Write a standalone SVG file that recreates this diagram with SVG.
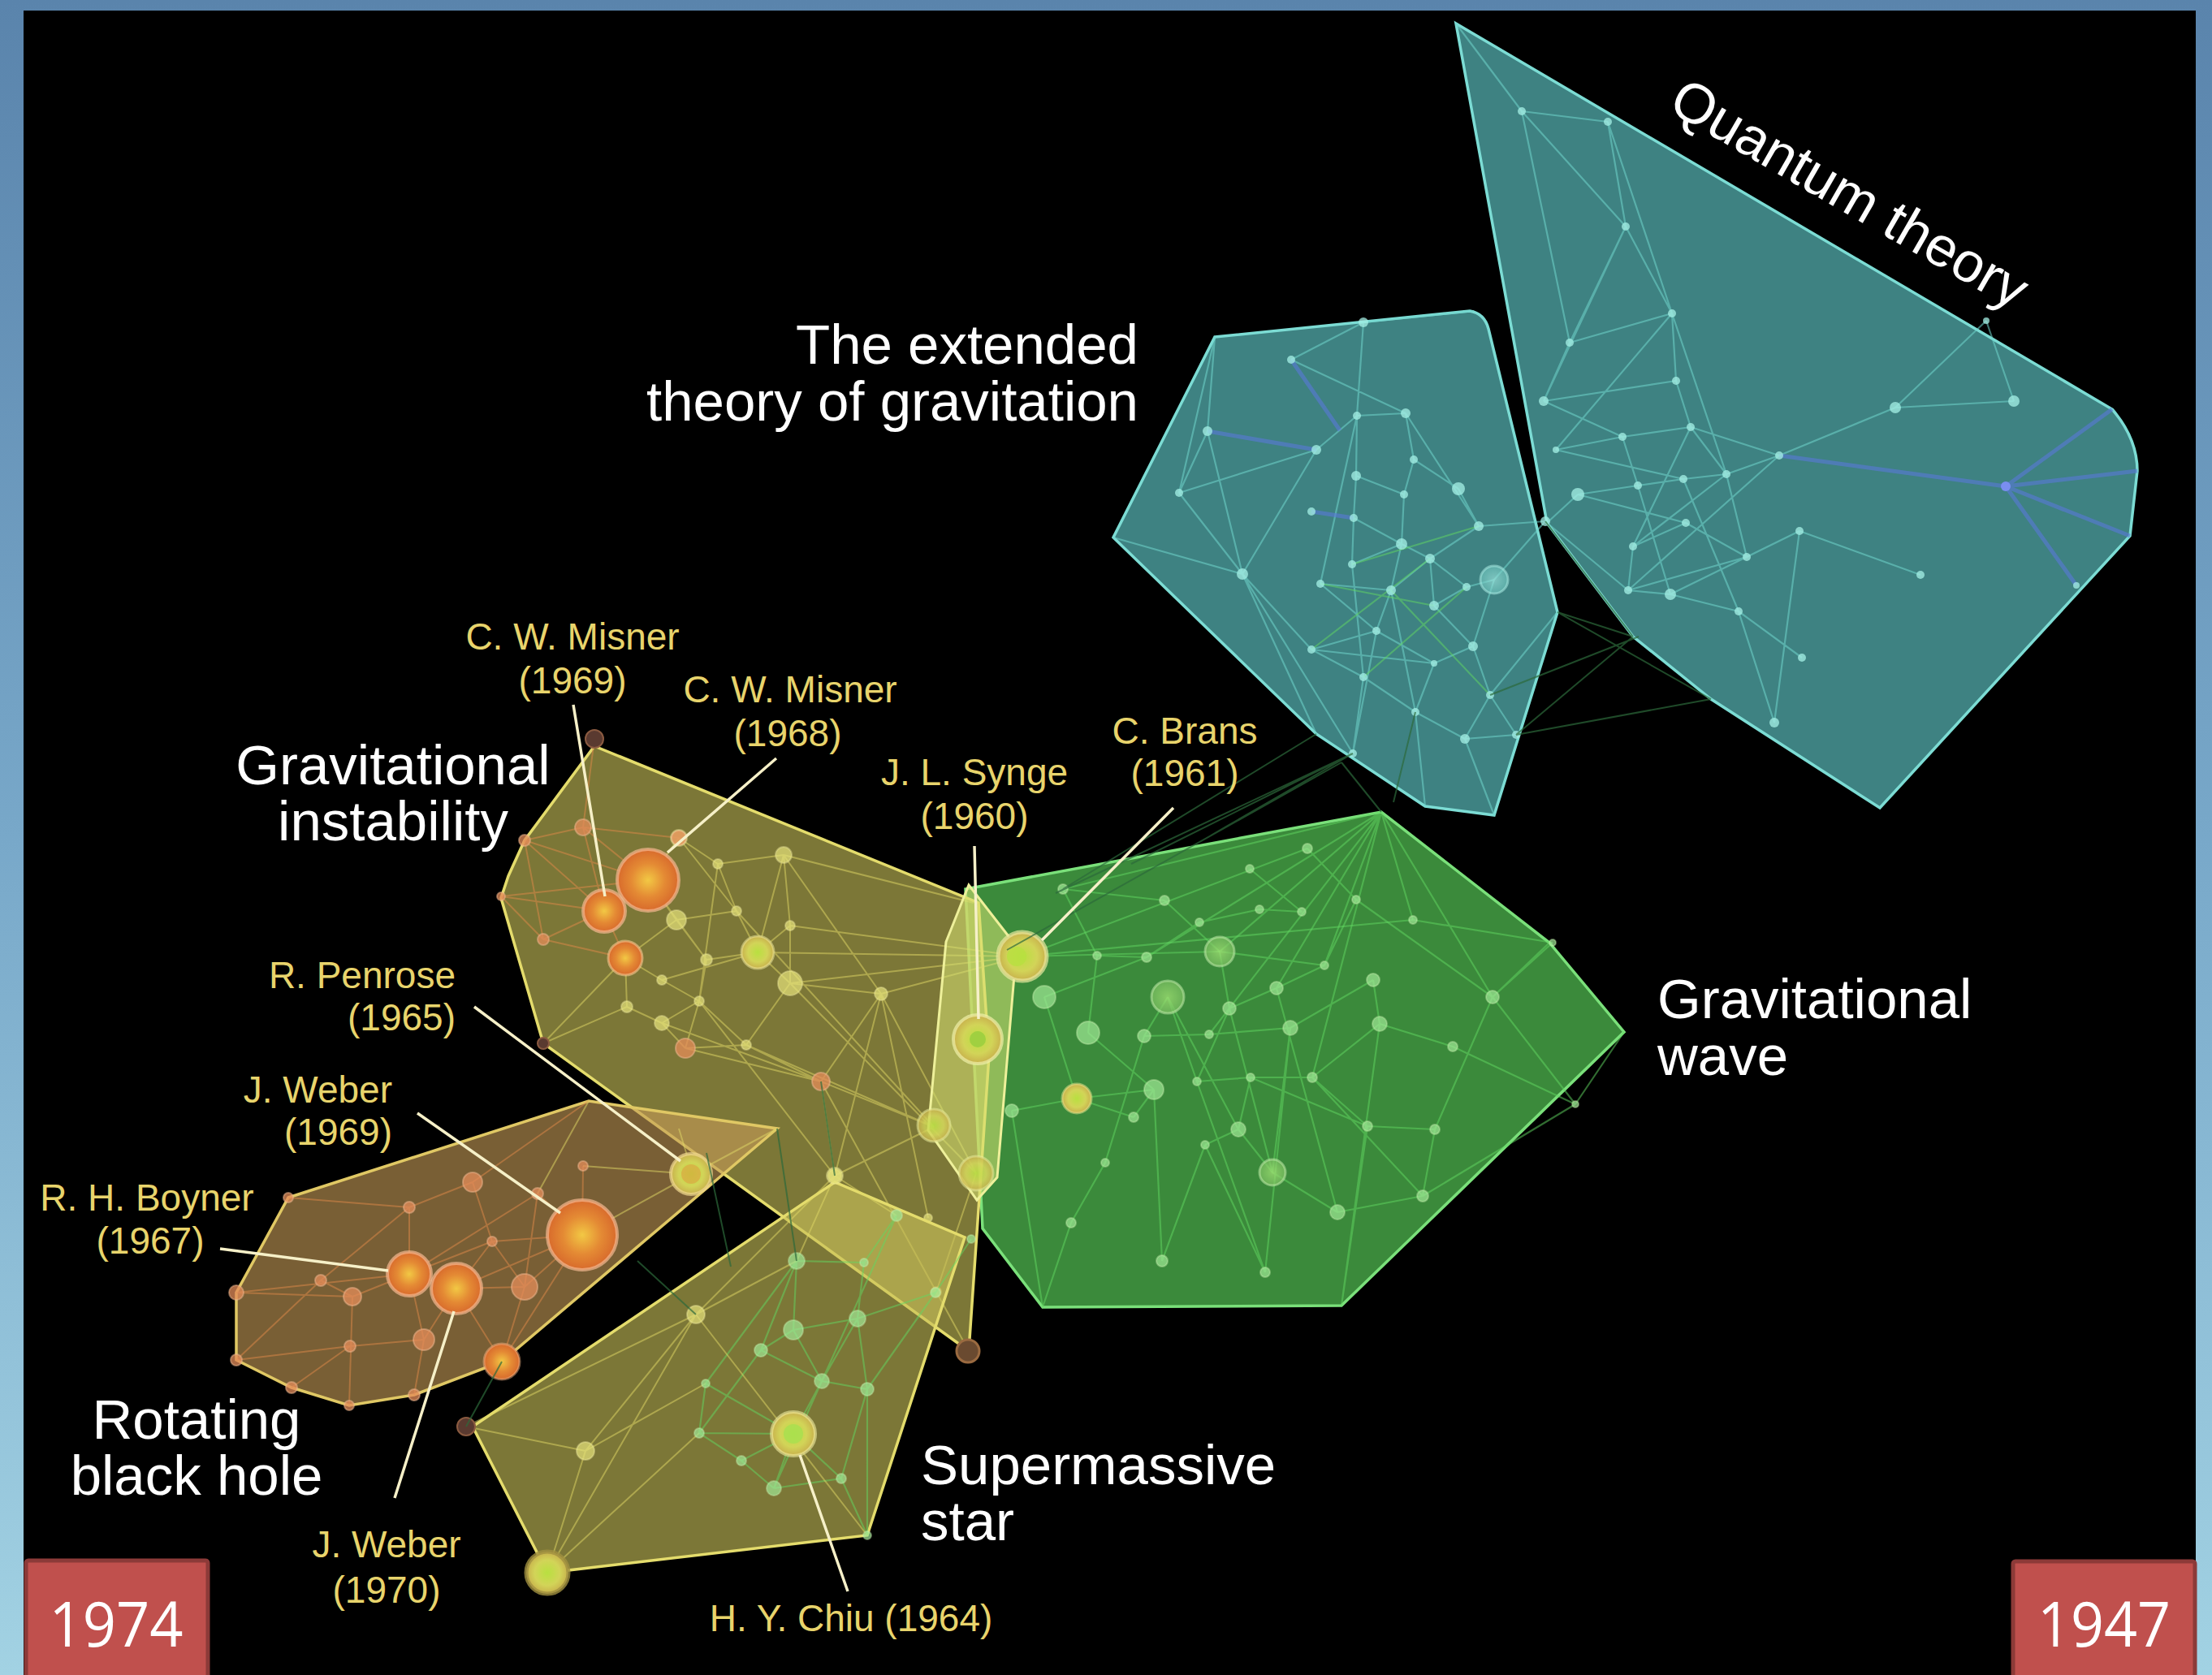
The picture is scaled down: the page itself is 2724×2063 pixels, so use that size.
<svg xmlns="http://www.w3.org/2000/svg" width="2724" height="2063" viewBox="0 0 2724 2063">
<defs>
<linearGradient id="frame" x1="0" y1="0" x2="0" y2="1">
<stop offset="0" stop-color="#5a84ac"/><stop offset="0.5" stop-color="#78a8c9"/><stop offset="1" stop-color="#a2d2e3"/>
</linearGradient>
<radialGradient id="gOr"><stop offset="0" stop-color="#f2c844"/><stop offset="0.55" stop-color="#e48a34"/><stop offset="1" stop-color="#d86a2c"/></radialGradient>
<radialGradient id="gYe"><stop offset="0" stop-color="#b8e040"/><stop offset="0.6" stop-color="#d2d458"/><stop offset="1" stop-color="#c8b04c"/></radialGradient>
<radialGradient id="gGr"><stop offset="0" stop-color="#a8e878"/><stop offset="1" stop-color="#7cc062"/></radialGradient>
<radialGradient id="gTe"><stop offset="0" stop-color="#a8f0e8"/><stop offset="1" stop-color="#70c8c0"/></radialGradient>
<style>
.lbw{font-family:"Liberation Sans",Arial,sans-serif;font-size:69px;fill:#ffffff}
.lby{font-family:"Liberation Sans",Arial,sans-serif;font-size:46px;fill:#e8d46c}
.yr{font-family:"Open Sans","Noto Sans",sans-serif;font-size:76px;fill:#ffffff}
.et{fill:none;stroke:#6fd6cc;stroke-width:2.2;stroke-opacity:0.55}
.eb{fill:none;stroke:#5a78d8;stroke-width:5;stroke-opacity:0.6}
.eg{fill:none;stroke:#62d862;stroke-width:2.2;stroke-opacity:0.5}
.ey{fill:none;stroke:#e0d866;stroke-width:2;stroke-opacity:0.5}
.eo{fill:none;stroke:#e08a4a;stroke-width:2;stroke-opacity:0.5}
.ed{fill:none;stroke:#2c6a3a;stroke-width:2;stroke-opacity:0.7}
.nt{fill:#a6f0e6;fill-opacity:0.75}
.ng{fill:#a0e896;fill-opacity:0.7;stroke:#c8f0b0;stroke-opacity:0.4;stroke-width:2}
.ny{fill:#e6e27a;fill-opacity:0.7;stroke:#f0eca0;stroke-opacity:0.4;stroke-width:2}
.no{fill:#e48c5a;fill-opacity:0.75;stroke:#f0b890;stroke-opacity:0.5;stroke-width:2}
.nd{fill:#5a3a30;stroke:#8a5a40;stroke-width:2}
.lead{stroke:#f6f0c8;stroke-width:3.5;fill:none}
</style>
</defs>

<rect x="0" y="0" width="2724" height="2063" fill="url(#frame)"/>
<rect x="29" y="13" width="2675" height="2050" fill="#000000"/>

<!-- Quantum theory cluster -->
<g id="quantum-theory">
<path d="M1793,29 L2601,504 Q2632,540 2632,580 L2623,660 L2315,995 L2107,861 L2011,784 L1905,644 Z" fill="#3e8282" stroke="#7cdcd4" stroke-width="3.5"/>
<path class="et" d="M1874,137 L1980,150 M1874,137 L2002,279 M1980,150 L2002,279 M2002,279 L2059,386 M2002,279 L1933,422 M1933,422 L2059,386 M2059,386 L2064,469 M2064,469 L1901,494 M1933,422 L1901,494 M1901,494 L1998,538 M1998,538 L2082,526 M2082,526 L2191,561 M2191,561 L2334,502 M2334,502 L2480,494 M2334,502 L2446,395 M2446,395 L2480,494 M2126,584 L2191,561 M2126,584 L2073,590 M2073,590 L2017,598 M2017,598 L1943,609 M1943,609 L1905,644 M2126,584 L2151,686 M2151,686 L2216,654 M2216,654 L2365,708 M2076,644 L2151,686 M2076,644 L2011,673 M2011,673 L2005,727 M2005,727 L2057,732 M2057,732 L2141,753 M2141,753 L2219,810 M2141,753 L2185,890 M2064,469 L2082,526 M2082,526 L2126,584 M2059,386 L2126,584 M1916,554 L2073,590 M1916,554 L1998,538 M1901,494 L2002,279 M2059,386 L1980,150 M1998,538 L2017,598 M2005,727 L2151,686 M2011,673 L2126,584 M1943,609 L2076,644 M2057,732 L2216,654 M2191,561 L2005,727 M2082,526 L2011,673 M1874,137 L1933,422 M1905,644 L2005,727 M2017,598 L2057,732 M2073,590 L2141,753 M2216,654 L2185,890 M1793,29 L1874,137 M2059,386 L1916,554"/>
<path class="eb" d="M2191,561 L2470,599 M2470,599 L2601,504 M2470,599 L2632,580 M2470,599 L2623,660 M2470,599 L2557,721"/>
<g class="nt">
<circle cx="1874" cy="137" r="5"/><circle cx="1980" cy="150" r="5"/><circle cx="2002" cy="279" r="5"/><circle cx="2059" cy="386" r="5"/><circle cx="1933" cy="422" r="5"/><circle cx="2064" cy="469" r="5"/><circle cx="1901" cy="494" r="6"/><circle cx="1998" cy="538" r="5"/><circle cx="2082" cy="526" r="5"/><circle cx="2191" cy="561" r="5"/><circle cx="2126" cy="584" r="5"/><circle cx="2017" cy="598" r="5"/><circle cx="2073" cy="590" r="5"/><circle cx="1943" cy="609" r="8"/><circle cx="2334" cy="502" r="7"/><circle cx="2480" cy="494" r="7"/><circle cx="2557" cy="721" r="4"/><circle cx="2216" cy="654" r="5"/><circle cx="2151" cy="686" r="5"/><circle cx="2076" cy="644" r="5"/><circle cx="2011" cy="673" r="5"/><circle cx="2005" cy="727" r="5"/><circle cx="2057" cy="732" r="7"/><circle cx="2141" cy="753" r="5"/><circle cx="2365" cy="708" r="5"/><circle cx="2219" cy="810" r="5"/><circle cx="2185" cy="890" r="6"/><circle cx="1916" cy="554" r="4"/><circle cx="2446" cy="395" r="4"/>
</g>
<circle cx="2470" cy="599" r="6" fill="#7a8ef0"/>
<text class="lbw" transform="translate(2052,135) rotate(30)">Quantum theory</text>
</g>

<!-- Extended theory of gravitation cluster -->
<g id="extended-theory">
<path d="M1496,415 L1810,383 Q1828,386 1833,405 L1918,754 L1840,1004 L1755,993 L1621,904 L1371,662 Z" fill="#3e8282" stroke="#7cdcd4" stroke-width="3.5"/>
<path class="et" d="M1487,531 L1452,607 M1487,531 L1530,707 M1452,607 L1621,554 M1621,554 L1530,707 M1590,443 L1679,397 M1590,443 L1731,509 M1679,397 L1671,512 M1679,397 L1815,383 M1496,415 L1487,531 M1496,415 L1452,607 M1452,607 L1530,707 M1530,707 L1615,800 M1530,707 L1621,904 M1371,662 L1530,707 M1530,707 L1666,928 M1671,512 L1670,586 M1670,586 L1667,638 M1667,638 L1665,695 M1665,695 L1679,834 M1731,509 L1741,566 M1741,566 L1729,609 M1729,609 L1726,670 M1726,670 L1713,727 M1713,727 L1695,777 M1695,777 L1666,928 M1671,512 L1626,719 M1731,509 L1821,648 M1741,566 L1796,602 M1796,602 L1821,648 M1821,648 L1761,688 M1761,688 L1713,727 M1726,670 L1761,688 M1761,688 L1766,746 M1766,746 L1814,796 M1814,796 L1835,856 M1835,856 L1804,910 M1804,910 L1743,877 M1743,877 L1679,834 M1679,834 L1615,800 M1615,800 L1766,817 M1766,817 L1814,796 M1766,817 L1743,877 M1806,723 L1840,714 M1840,714 L1903,642 M1840,714 L1814,796 M1806,723 L1766,746 M1670,586 L1729,609 M1667,638 L1726,670 M1626,719 L1713,727 M1626,719 L1695,777 M1695,777 L1766,817 M1867,905 L1835,856 M1867,905 L1804,910 M1918,754 L1835,856 M1679,834 L1666,928 M1743,877 L1755,993 M1804,910 L1840,1004 M1671,512 L1731,509 M1665,695 L1726,670 M1713,727 L1743,877 M1761,688 L1806,723 M1615,800 L1695,777 M1903,642 L1821,648 M1621,554 L1671,512"/>
<path class="eb" d="M1487,531 L1621,554 M1615,630 L1667,638 M1590,443 L1650,530" stroke-opacity="0.35"/>
<path class="eg" d="M1615,800 L1761,688 M1665,695 L1821,648 M1626,719 L1766,746 M1713,727 L1835,856 M1679,834 L1806,723"/>
<g class="nt">
<circle cx="1679" cy="397" r="6"/><circle cx="1590" cy="443" r="5"/><circle cx="1487" cy="531" r="6"/><circle cx="1621" cy="554" r="6"/><circle cx="1452" cy="607" r="5"/><circle cx="1615" cy="630" r="5"/><circle cx="1530" cy="707" r="7"/><circle cx="1671" cy="512" r="5"/><circle cx="1731" cy="509" r="6"/><circle cx="1741" cy="566" r="5"/><circle cx="1670" cy="586" r="6"/><circle cx="1729" cy="609" r="5"/><circle cx="1796" cy="602" r="8"/><circle cx="1667" cy="638" r="5"/><circle cx="1821" cy="648" r="6"/><circle cx="1726" cy="670" r="7"/><circle cx="1761" cy="688" r="6"/><circle cx="1665" cy="695" r="5"/><circle cx="1626" cy="719" r="5"/><circle cx="1713" cy="727" r="6"/><circle cx="1806" cy="723" r="5"/><circle cx="1766" cy="746" r="6"/><circle cx="1695" cy="777" r="5"/><circle cx="1615" cy="800" r="5"/><circle cx="1814" cy="796" r="6"/><circle cx="1766" cy="817" r="4"/><circle cx="1679" cy="834" r="5"/><circle cx="1835" cy="856" r="5"/><circle cx="1743" cy="877" r="5"/><circle cx="1804" cy="910" r="6"/><circle cx="1867" cy="905" r="5"/><circle cx="1666" cy="928" r="5"/><circle cx="1903" cy="642" r="6"/>
</g>
<circle cx="1840" cy="714" r="17" fill="url(#gTe)" fill-opacity="0.6" stroke="#b0f0e8" stroke-opacity="0.5" stroke-width="3"/>
<text class="lbw" text-anchor="end" x="1402" y="448">The extended</text>
<text class="lbw" text-anchor="end" x="1402" y="518">theory of gravitation</text>
</g>

<!-- Gravitational wave cluster -->
<g id="gravitational-wave">
<path d="M1189,1095 L1701,1000 L1908,1161 L2000,1271 L1652,1608 L1284,1610 L1210,1513 Z" fill="#3b8a3b" stroke="#7ae07a" stroke-width="3.5"/>
<path class="eg" d="M1701,1000 L1309,1095 M1701,1000 L1412,1179 M1701,1000 L1502,1172 M1701,1000 L1572,1217 M1701,1000 L1631,1189 M1701,1000 L1489,1274 M1701,1000 L1616,1327 M1701,1000 L1838,1228 M1701,1000 L1740,1133 M1434,1109 L1502,1172 M1502,1172 L1514,1242 M1514,1242 L1474,1332 M1438,1228 L1474,1332 M1438,1228 L1409,1276 M1409,1276 L1361,1432 M1474,1332 L1540,1327 M1540,1327 L1616,1327 M1616,1327 L1699,1261 M1699,1261 L1789,1289 M1789,1289 L1940,1360 M1838,1228 L1940,1360 M1838,1228 L1912,1161 M1670,1108 L1838,1228 M1670,1108 L1631,1189 M1631,1189 L1572,1217 M1572,1217 L1514,1242 M1589,1266 L1567,1444 M1567,1444 L1647,1493 M1647,1493 L1752,1473 M1567,1444 L1525,1391 M1525,1391 L1484,1410 M1484,1410 L1431,1553 M1396,1376 L1421,1342 M1421,1342 L1326,1353 M1326,1353 L1246,1368 M1361,1432 L1319,1506 M1684,1387 L1767,1391 M1684,1387 L1616,1327 M1684,1387 L1652,1608 M1699,1261 L1652,1608 M1558,1567 L1589,1266 M1558,1567 L1484,1410 M1286,1228 L1412,1179 M1351,1177 L1412,1179 M1351,1177 L1340,1272 M1540,1327 L1684,1387 M1767,1391 L1752,1473 M1752,1473 L1940,1360 M1603,1123 L1551,1120 M1551,1120 L1477,1136 M1477,1136 L1412,1179 M1539,1070 L1603,1123 M1610,1045 L1670,1108 M1326,1353 L1396,1376 M1246,1368 L1284,1610 M1340,1272 L1421,1342 M1409,1276 L1489,1274 M1489,1274 L1589,1266 M1589,1266 L1691,1207 M1691,1207 L1699,1261 M1502,1172 L1631,1189 M1438,1228 L1525,1391 M1514,1242 L1567,1444 M1908,1161 L1838,1228 M2000,1271 L1940,1360 M1309,1095 L1434,1109 M1309,1095 L1351,1177 M1740,1133 L1912,1161 M1572,1217 L1647,1493 M1474,1332 L1558,1567 M1421,1342 L1431,1553 M1319,1506 L1284,1610 M1616,1327 L1752,1473 M1838,1228 L1767,1391 M1525,1391 L1540,1327 M1286,1228 L1326,1353"/>
<path class="eg" stroke-width="5" stroke-opacity="0.45" d="M1259,1178 L1740,1133 M1259,1178 L1610,1045 M1259,1178 L1502,1172"/>
<g class="ng">
<circle cx="1309" cy="1095" r="6"/><circle cx="1434" cy="1109" r="6"/><circle cx="1477" cy="1136" r="5"/><circle cx="1539" cy="1070" r="5"/><circle cx="1610" cy="1045" r="6"/><circle cx="1670" cy="1108" r="5"/><circle cx="1603" cy="1123" r="5"/><circle cx="1740" cy="1133" r="5"/><circle cx="1551" cy="1120" r="5"/><circle cx="1351" cy="1177" r="5"/><circle cx="1412" cy="1179" r="6"/><circle cx="1631" cy="1189" r="5"/><circle cx="1691" cy="1207" r="8"/><circle cx="1572" cy="1217" r="8"/><circle cx="1286" cy="1228" r="14"/><circle cx="1514" cy="1242" r="8"/><circle cx="1838" cy="1228" r="8"/><circle cx="1340" cy="1272" r="14"/><circle cx="1409" cy="1276" r="8"/><circle cx="1489" cy="1274" r="5"/><circle cx="1589" cy="1266" r="9"/><circle cx="1699" cy="1261" r="9"/><circle cx="1789" cy="1289" r="6"/><circle cx="1421" cy="1342" r="12"/><circle cx="1474" cy="1332" r="5"/><circle cx="1540" cy="1327" r="5"/><circle cx="1616" cy="1327" r="6"/><circle cx="1246" cy="1368" r="8"/><circle cx="1396" cy="1376" r="6"/><circle cx="1525" cy="1391" r="9"/><circle cx="1684" cy="1387" r="6"/><circle cx="1767" cy="1391" r="6"/><circle cx="1484" cy="1410" r="5"/><circle cx="1361" cy="1432" r="5"/><circle cx="1647" cy="1493" r="9"/><circle cx="1752" cy="1473" r="7"/><circle cx="1940" cy="1360" r="4"/><circle cx="1912" cy="1161" r="4"/><circle cx="1319" cy="1506" r="6"/><circle cx="1431" cy="1553" r="7"/><circle cx="1558" cy="1567" r="6"/>
</g>
<circle cx="1502" cy="1172" r="18" fill="url(#gGr)" fill-opacity="0.7" stroke="#c8f0b0" stroke-opacity="0.5" stroke-width="3"/>
<circle cx="1438" cy="1228" r="20" fill="url(#gGr)" fill-opacity="0.7" stroke="#c8f0b0" stroke-opacity="0.5" stroke-width="3"/>
<circle cx="1567" cy="1444" r="16" fill="url(#gGr)" fill-opacity="0.7" stroke="#c8f0b0" stroke-opacity="0.5" stroke-width="3"/>
<circle cx="1326" cy="1353" r="18" fill="url(#gYe)" stroke="#e8e890" stroke-opacity="0.5" stroke-width="3"/>
<text class="lbw" x="2041" y="1254">Gravitational</text>
<text class="lbw" x="2041" y="1324">wave</text>
</g>

<!-- Gravitational instability cluster -->
<g id="gravitational-instability">
<path d="M732,919 L1205,1112 L1218,1300 L1193,1664 L669,1285 L617,1106 L626,1079 L646,1035 Z" fill="#c8c058" fill-opacity="0.62" stroke="#e4dc6c" stroke-width="3.5"/>
<path class="ey" d="M836,1032 L798,1084 M836,1032 L884,1064 M884,1064 L907,1122 M884,1064 L965,1053 M965,1053 L973,1140 M965,1053 L933,1173 M907,1122 L933,1173 M907,1122 L833,1133 M833,1133 L798,1084 M833,1133 L870,1182 M870,1182 L933,1173 M870,1182 L861,1233 M861,1233 L815,1207 M815,1207 L770,1180 M770,1180 L833,1133 M770,1180 L772,1240 M772,1240 L815,1260 M815,1260 L861,1233 M861,1233 L919,1287 M919,1287 L973,1211 M973,1211 L973,1140 M973,1140 L933,1173 M933,1173 L973,1211 M844,1291 L861,1233 M844,1291 L815,1260 M919,1287 L844,1291 M1085,1224 L973,1211 M1085,1224 L1011,1332 M1011,1332 L919,1287 M1011,1332 L1193,1664 M884,1064 L861,1233 M965,1053 L1085,1224 M933,1173 L1259,1178 M973,1211 L1259,1178 M1085,1224 L1259,1178 M973,1140 L1259,1178 M907,1122 L1150,1388 M919,1287 L1150,1388 M1011,1332 L1150,1388 M1085,1224 L1202,1445 M844,1291 L1011,1332 M770,1180 L669,1285 M772,1240 L669,1285 M815,1260 L1011,1332 M836,1032 L907,1122 M798,1084 L870,1182 M1028,1448 L1011,1332 M1028,1448 L1085,1224 M1028,1448 L1150,1388 M1153,1591 L1202,1445 M1153,1591 L1011,1332 M933,1173 L815,1207 M965,1053 L1199,1112 M1085,1224 L1143,1500 M973,1211 L1202,1445 M861,1233 L1028,1448"/>
<path class="eo" d="M646,1035 L744,1122 M646,1035 L798,1084 M617,1104 L744,1122 M617,1104 L798,1084 M669,1157 L770,1180 M669,1157 L744,1122 M718,1019 L798,1084 M718,1019 L744,1122 M744,1122 L770,1180 M646,1035 L718,1019 M617,1104 L669,1157 M732,910 L718,1019 M718,1019 L836,1032 M646,1035 L669,1157"/>
<g class="ny">
<circle cx="836" cy="1032" r="10"/><circle cx="884" cy="1064" r="6"/><circle cx="965" cy="1053" r="10"/><circle cx="907" cy="1122" r="6"/><circle cx="833" cy="1133" r="12"/><circle cx="973" cy="1140" r="6"/><circle cx="870" cy="1182" r="7"/><circle cx="973" cy="1211" r="15"/><circle cx="815" cy="1207" r="6"/><circle cx="861" cy="1233" r="6"/><circle cx="772" cy="1240" r="7"/><circle cx="815" cy="1260" r="9"/><circle cx="919" cy="1287" r="6"/><circle cx="1085" cy="1224" r="8"/><circle cx="1028" cy="1448" r="8"/><circle cx="1153" cy="1591" r="6"/><circle cx="1143" cy="1500" r="5"/>
</g>
<g class="no">
<circle cx="718" cy="1019" r="10"/><circle cx="646" cy="1035" r="7"/><circle cx="617" cy="1104" r="5"/><circle cx="669" cy="1157" r="7"/><circle cx="844" cy="1291" r="12"/><circle cx="1011" cy="1332" r="11"/><circle cx="836" cy="1032" r="9"/>
</g>
<circle cx="933" cy="1173" r="20" fill="url(#gYe)" stroke="#f0eca0" stroke-opacity="0.5" stroke-width="3"/>
<circle cx="770" cy="1180" r="21" fill="url(#gOr)" stroke="#f4c890" stroke-opacity="0.6" stroke-width="3"/>
<circle cx="798" cy="1084" r="38" fill="url(#gOr)" stroke="#f4b890" stroke-opacity="0.7" stroke-width="4"/>
<circle cx="744" cy="1122" r="26" fill="url(#gOr)" stroke="#f4b890" stroke-opacity="0.7" stroke-width="4"/>
<circle cx="732" cy="910" r="11" class="nd"/>
<circle cx="669" cy="1285" r="7" class="nd"/>
<circle cx="1192" cy="1664" r="14" fill="#6a4a30" stroke="#9a6a40" stroke-width="3"/>
<text class="lbw" text-anchor="middle" x="484" y="966">Gravitational</text>
<text class="lbw" text-anchor="middle" x="484" y="1035">instability</text>
</g>

<!-- Rotating black hole cluster -->
<g id="rotating-black-hole">
<path d="M355,1475 L725,1356 L957,1390 L618,1677 L510,1718 L430,1731 L359,1709 L291,1675 L291,1592 Z" fill="#c49a56" fill-opacity="0.62" stroke="#e0c864" stroke-width="3.5"/>
<path class="eo" d="M504,1569 L562,1587 M562,1587 L646,1585 M646,1585 L606,1529 M606,1529 L717,1521 M717,1521 L662,1470 M662,1470 L504,1569 M504,1569 L434,1597 M434,1597 L395,1577 M395,1577 L291,1675 M504,1569 L522,1650 M522,1650 L431,1658 M431,1658 L359,1709 M562,1587 L618,1677 M562,1587 L522,1650 M646,1585 L618,1677 M504,1487 L504,1569 M582,1456 L606,1529 M717,1521 L562,1587 M718,1436 L717,1521 M504,1569 L291,1592 M434,1597 L430,1731 M522,1650 L510,1718 M606,1529 L562,1587 M504,1487 L582,1456 M662,1470 L646,1585 M717,1521 L618,1677 M291,1592 L434,1597 M431,1658 L291,1675 M355,1475 L504,1487 M395,1577 L504,1487 M582,1456 L725,1356 M504,1569 L606,1529 M646,1585 L717,1521"/>
<path class="ey" d="M717,1521 L853,1446 M718,1436 L853,1446 M662,1470 L725,1356 M853,1446 L957,1390 M853,1446 L836,1390"/>
<g class="no">
<circle cx="582" cy="1456" r="12"/><circle cx="504" cy="1487" r="7"/><circle cx="395" cy="1577" r="7"/><circle cx="434" cy="1597" r="11"/><circle cx="646" cy="1585" r="16"/><circle cx="606" cy="1529" r="6"/><circle cx="662" cy="1470" r="7"/><circle cx="718" cy="1436" r="6"/><circle cx="522" cy="1650" r="13"/><circle cx="431" cy="1658" r="7"/><circle cx="359" cy="1709" r="7"/><circle cx="291" cy="1675" r="7"/><circle cx="291" cy="1592" r="9"/><circle cx="510" cy="1718" r="7"/><circle cx="430" cy="1731" r="6"/><circle cx="355" cy="1475" r="6"/>
</g>
<circle cx="618" cy="1677" r="22" fill="url(#gOr)" stroke="#f0b080" stroke-opacity="0.5" stroke-width="3"/>
<circle cx="717" cy="1521" r="43" fill="url(#gOr)" stroke="#f4b890" stroke-opacity="0.7" stroke-width="4"/>
<circle cx="504" cy="1569" r="27" fill="url(#gOr)" stroke="#f4b890" stroke-opacity="0.7" stroke-width="4"/>
<circle cx="562" cy="1587" r="31" fill="url(#gOr)" stroke="#f4b890" stroke-opacity="0.7" stroke-width="4"/>
<circle cx="851" cy="1446" r="25" fill="url(#gYe)" stroke="#f0d890" stroke-opacity="0.7" stroke-width="4"/>
<circle cx="851" cy="1446" r="12" fill="#e0a040" fill-opacity="0.6"/>
<text class="lbw" text-anchor="middle" x="242" y="1772">Rotating</text>
<text class="lbw" text-anchor="middle" x="242" y="1841">black hole</text>
</g>

<!-- Supermassive star cluster -->
<g id="supermassive-star">
<path d="M582,1757 L1028,1456 L1188,1524 L1068,1891 L674,1937 Z" fill="#c8c058" fill-opacity="0.62" stroke="#e4dc6c" stroke-width="3.5"/>
<path class="eg" d="M981,1553 L977,1638 M977,1638 L937,1663 M977,1638 L1056,1624 M1056,1624 L1012,1701 M1012,1701 L1068,1711 M937,1663 L1012,1701 M869,1704 L861,1765 M861,1765 L913,1799 M913,1799 L953,1833 M953,1833 L1036,1821 M1036,1821 L1068,1711 M977,1766 L953,1833 M977,1766 L1012,1701 M977,1766 L1036,1821 M981,1553 L1064,1555 M1064,1555 L1056,1624 M1056,1624 L1068,1711 M977,1638 L1012,1701 M981,1553 L937,1663 M861,1765 L977,1766 M869,1704 L977,1766 M913,1799 L977,1766 M1068,1711 L1068,1891 M1036,1821 L1068,1891 M1104,1497 L1064,1555 M1152,1592 L1056,1624 M1152,1592 L1068,1711 M1196,1526 L1152,1592 M981,1553 L869,1704 M937,1663 L861,1765 M1012,1701 L953,1833 M1104,1497 L1012,1701"/>
<path class="ey" d="M857,1619 L721,1787 M857,1619 L674,1937 M721,1787 L674,1937 M574,1757 L721,1787 M857,1619 L981,1553 M574,1757 L857,1619 M857,1619 L1028,1448 M721,1787 L869,1704 M674,1937 L861,1765 M1028,1448 L981,1553 M1028,1448 L1104,1497 M857,1619 L1068,1891"/>
<g class="ng">
<circle cx="981" cy="1553" r="10"/><circle cx="977" cy="1638" r="12"/><circle cx="1056" cy="1624" r="10"/><circle cx="937" cy="1663" r="8"/><circle cx="1012" cy="1701" r="9"/><circle cx="1068" cy="1711" r="8"/><circle cx="869" cy="1704" r="5"/><circle cx="861" cy="1765" r="6"/><circle cx="913" cy="1799" r="6"/><circle cx="953" cy="1833" r="9"/><circle cx="1036" cy="1821" r="6"/><circle cx="1064" cy="1555" r="5"/><circle cx="1104" cy="1497" r="7"/><circle cx="1152" cy="1592" r="6"/><circle cx="1196" cy="1526" r="5"/><circle cx="1068" cy="1891" r="5"/>
</g>
<g class="ny">
<circle cx="857" cy="1619" r="11"/><circle cx="721" cy="1787" r="11"/><circle cx="1028" cy="1448" r="10"/>
</g>
<circle cx="977" cy="1766" r="27" fill="url(#gYe)" stroke="#f0eca0" stroke-opacity="0.6" stroke-width="4"/>
<circle cx="977" cy="1766" r="12" fill="#a8e050" fill-opacity="0.8"/>
<circle cx="674" cy="1937" r="26" fill="url(#gYe)" stroke="#a09040" stroke-opacity="0.8" stroke-width="5"/>
<circle cx="574" cy="1757" r="11" class="nd" fill="#6a5a30"/>
<text class="lbw" x="1134" y="1828">Supermassive</text>
<text class="lbw" x="1134" y="1897">star</text>
</g>

<!-- Bright strip between instability and wave -->
<g id="strip">
<path d="M1193,1090 L1252,1166 L1228,1450 L1203,1478 L1143,1392 L1165,1160 Z" fill="#d6e272" fill-opacity="0.55" stroke="#eef09a" stroke-width="3"/>
<circle cx="1150" cy="1386" r="20" fill="url(#gYe)" fill-opacity="0.8" stroke="#eaf0a0" stroke-opacity="0.5" stroke-width="3"/>
<circle cx="1202" cy="1445" r="21" fill="url(#gYe)" fill-opacity="0.8" stroke="#eaf0a0" stroke-opacity="0.5" stroke-width="3"/>
<circle cx="1204" cy="1280" r="30" fill="url(#gYe)" stroke="#eef0a8" stroke-opacity="0.7" stroke-width="4"/>
<circle cx="1204" cy="1280" r="10" fill="#a0d040"/>
<circle cx="1259" cy="1178" r="30" fill="url(#gYe)" stroke="#e8e8a0" stroke-opacity="0.7" stroke-width="5"/>
<circle cx="1252" cy="1178" r="12" fill="#b8e040" fill-opacity="0.8"/>
</g>

<!-- Inter-cluster links and leader lines -->
<g id="connectors">
<path class="ed" d="M1666,928 L1393,1064 M1666,928 L1491,1029 M1652,939 L1701,1000 M1666,928 L1300,1100 M1621,904 L1309,1095 M1716,988 L1743,877 M1652,939 L1240,1170 M1918,754 L2011,784 M1918,754 L2107,861 M1903,642 L2011,784 M1867,905 L2011,784 M1867,905 L2107,861 M1835,856 L2018,784 M870,1420 L900,1560 M957,1390 L981,1553 M785,1553 L857,1619 M618,1677 L574,1757 M1011,1332 L1028,1448"/>
<path class="lead" d="M706,868 L745,1104 M956,934 L822,1050 M1200,1042 L1205,1255 M1445,995 L1283,1158 M584,1240 L838,1430 M514,1371 L690,1494 M271,1538 L478,1565 M486,1845 L559,1615 M1044,1960 L985,1792"/>
</g>

<!-- Person labels -->
<g id="person-labels">
<text class="lby" text-anchor="middle" x="705" y="800">C. W. Misner</text>
<text class="lby" text-anchor="middle" x="705" y="854">(1969)</text>
<text class="lby" text-anchor="middle" x="973" y="865">C. W. Misner</text>
<text class="lby" text-anchor="middle" x="970" y="919">(1968)</text>
<text class="lby" text-anchor="middle" x="1200" y="967">J. L. Synge</text>
<text class="lby" text-anchor="middle" x="1200" y="1021">(1960)</text>
<text class="lby" text-anchor="middle" x="1459" y="916">C. Brans</text>
<text class="lby" text-anchor="middle" x="1459" y="968">(1961)</text>
<text class="lby" text-anchor="end" x="561" y="1217">R. Penrose</text>
<text class="lby" text-anchor="end" x="561" y="1269">(1965)</text>
<text class="lby" text-anchor="end" x="483" y="1358">J. Weber</text>
<text class="lby" text-anchor="end" x="483" y="1410">(1969)</text>
<text class="lby" text-anchor="middle" x="181" y="1491">R. H. Boyner</text>
<text class="lby" text-anchor="middle" x="185" y="1544">(1967)</text>
<text class="lby" text-anchor="middle" x="476" y="1918">J. Weber</text>
<text class="lby" text-anchor="middle" x="476" y="1974">(1970)</text>
<text class="lby" text-anchor="middle" x="1048" y="2009">H. Y. Chiu (1964)</text>
</g>

<!-- Year boxes -->
<g id="year-1974">
<rect x="32" y="1922" width="224" height="150" rx="3" fill="#c0504d" stroke="#8c3a38" stroke-width="5"/>
<text class="yr" text-anchor="middle" x="143" y="2028" textLength="165" lengthAdjust="spacingAndGlyphs">1974</text>
</g>
<g id="year-1947">
<rect x="2479" y="1923" width="224" height="150" rx="3" fill="#c0504d" stroke="#8c3a38" stroke-width="5"/>
<text class="yr" text-anchor="middle" x="2591" y="2028" textLength="164" lengthAdjust="spacingAndGlyphs">1947</text>
</g>
</svg>
